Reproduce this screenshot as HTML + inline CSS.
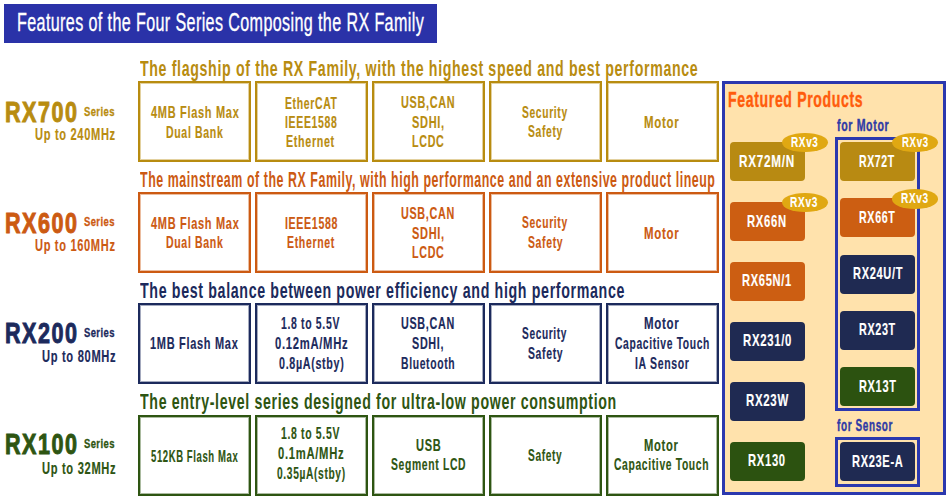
<!DOCTYPE html>
<html><head><meta charset="utf-8"><style>
html,body{margin:0;padding:0;background:#fff;width:950px;height:500px;overflow:hidden;position:relative}
.r{position:absolute}
.t{position:absolute;white-space:nowrap;line-height:1;transform-origin:0 0;font-family:"Liberation Sans",sans-serif}
</style></head><body>
<div class="r" style="left:4px;top:4px;width:433px;height:39px;background:#2a32a8"></div>
<div class="r" style="left:138px;top:81px;width:113px;height:81px;box-sizing:border-box;border:2px solid #b88c10;box-shadow:inset 0 0 0 1px #b88c1066"></div>
<div class="r" style="left:255px;top:81px;width:113px;height:81px;box-sizing:border-box;border:2px solid #b88c10;box-shadow:inset 0 0 0 1px #b88c1066"></div>
<div class="r" style="left:372px;top:81px;width:113px;height:81px;box-sizing:border-box;border:2px solid #b88c10;box-shadow:inset 0 0 0 1px #b88c1066"></div>
<div class="r" style="left:489px;top:81px;width:113px;height:81px;box-sizing:border-box;border:2px solid #b88c10;box-shadow:inset 0 0 0 1px #b88c1066"></div>
<div class="r" style="left:606px;top:81px;width:113px;height:81px;box-sizing:border-box;border:2px solid #b88c10;box-shadow:inset 0 0 0 1px #b88c1066"></div>
<div class="r" style="left:138px;top:192px;width:113px;height:81px;box-sizing:border-box;border:2px solid #cc5a12;box-shadow:inset 0 0 0 1px #cc5a1266"></div>
<div class="r" style="left:255px;top:192px;width:113px;height:81px;box-sizing:border-box;border:2px solid #cc5a12;box-shadow:inset 0 0 0 1px #cc5a1266"></div>
<div class="r" style="left:372px;top:192px;width:113px;height:81px;box-sizing:border-box;border:2px solid #cc5a12;box-shadow:inset 0 0 0 1px #cc5a1266"></div>
<div class="r" style="left:489px;top:192px;width:113px;height:81px;box-sizing:border-box;border:2px solid #cc5a12;box-shadow:inset 0 0 0 1px #cc5a1266"></div>
<div class="r" style="left:606px;top:192px;width:113px;height:81px;box-sizing:border-box;border:2px solid #cc5a12;box-shadow:inset 0 0 0 1px #cc5a1266"></div>
<div class="r" style="left:138px;top:303px;width:113px;height:81px;box-sizing:border-box;border:2px solid #1c2a5c;box-shadow:inset 0 0 0 1px #1c2a5c66"></div>
<div class="r" style="left:255px;top:303px;width:113px;height:81px;box-sizing:border-box;border:2px solid #1c2a5c;box-shadow:inset 0 0 0 1px #1c2a5c66"></div>
<div class="r" style="left:372px;top:303px;width:113px;height:81px;box-sizing:border-box;border:2px solid #1c2a5c;box-shadow:inset 0 0 0 1px #1c2a5c66"></div>
<div class="r" style="left:489px;top:303px;width:113px;height:81px;box-sizing:border-box;border:2px solid #1c2a5c;box-shadow:inset 0 0 0 1px #1c2a5c66"></div>
<div class="r" style="left:606px;top:303px;width:113px;height:81px;box-sizing:border-box;border:2px solid #1c2a5c;box-shadow:inset 0 0 0 1px #1c2a5c66"></div>
<div class="r" style="left:138px;top:415px;width:113px;height:81px;box-sizing:border-box;border:2px solid #2e5512;box-shadow:inset 0 0 0 1px #2e551266"></div>
<div class="r" style="left:255px;top:415px;width:113px;height:81px;box-sizing:border-box;border:2px solid #2e5512;box-shadow:inset 0 0 0 1px #2e551266"></div>
<div class="r" style="left:372px;top:415px;width:113px;height:81px;box-sizing:border-box;border:2px solid #2e5512;box-shadow:inset 0 0 0 1px #2e551266"></div>
<div class="r" style="left:489px;top:415px;width:113px;height:81px;box-sizing:border-box;border:2px solid #2e5512;box-shadow:inset 0 0 0 1px #2e551266"></div>
<div class="r" style="left:606px;top:415px;width:113px;height:81px;box-sizing:border-box;border:2px solid #2e5512;box-shadow:inset 0 0 0 1px #2e551266"></div>
<div class="r" style="left:722px;top:81px;width:224px;height:414px;box-sizing:border-box;border:3px solid #2b38ae;background:#ffe2ac"></div>
<div class="r" style="left:835px;top:137px;width:85px;height:274px;box-sizing:border-box;border:3px solid #2b38ae"></div>
<div class="r" style="left:835px;top:437px;width:85px;height:50px;box-sizing:border-box;border:3px solid #2b38ae"></div>
<div class="r" style="left:730px;top:142px;width:75px;height:39px;background:#b88a12;border-radius:4px"></div>
<div class="r" style="left:730px;top:202px;width:75px;height:39px;background:#cc5e12;border-radius:4px"></div>
<div class="r" style="left:730px;top:262px;width:75px;height:39px;background:#cc5e12;border-radius:4px"></div>
<div class="r" style="left:730px;top:322px;width:75px;height:39px;background:#1f2a52;border-radius:4px"></div>
<div class="r" style="left:730px;top:382px;width:75px;height:39px;background:#1f2a52;border-radius:4px"></div>
<div class="r" style="left:730px;top:442px;width:75px;height:39px;background:#2c5210;border-radius:4px"></div>
<div class="r" style="left:840px;top:142px;width:75px;height:39px;background:#b88a12;border-radius:4px"></div>
<div class="r" style="left:840px;top:198px;width:75px;height:39px;background:#cc5e12;border-radius:4px"></div>
<div class="r" style="left:840px;top:255px;width:75px;height:39px;background:#1f2a52;border-radius:4px"></div>
<div class="r" style="left:840px;top:311px;width:75px;height:39px;background:#1f2a52;border-radius:4px"></div>
<div class="r" style="left:840px;top:367px;width:75px;height:39px;background:#2c5210;border-radius:4px"></div>
<div class="r" style="left:840px;top:442px;width:75px;height:39px;background:#1f2a52;border-radius:4px"></div>
<div class="r" style="left:782px;top:132.5px;width:46px;height:19.5px;background:#e0a812;border-radius:50%"></div>
<div class="r" style="left:892px;top:132.5px;width:46px;height:19.5px;background:#e0a812;border-radius:50%"></div>
<div class="r" style="left:781.5px;top:192.5px;width:46px;height:19.5px;background:#e0a812;border-radius:50%"></div>
<div class="r" style="left:892px;top:189px;width:46px;height:19.5px;background:#e0a812;border-radius:50%"></div>
<div class="t" style="left:17.00px;top:9.75px;font-size:25.10px;font-weight:normal;color:#ffffff;transform:scaleX(0.6416);letter-spacing:0.6px;-webkit-text-stroke:0.35px currentColor;">Features of the Four Series Composing the RX Family</div>
<div class="t" style="left:140.00px;top:57.54px;font-size:21.80px;font-weight:bold;color:#b88c10;transform:scaleX(0.6504);letter-spacing:1px;">The flagship of the RX Family, with the highest speed and best performance</div>
<div class="t" style="left:140.00px;top:168.54px;font-size:21.80px;font-weight:bold;color:#cc5a12;transform:scaleX(0.5679);letter-spacing:1px;">The mainstream of the RX Family, with high performance and an extensive product lineup</div>
<div class="t" style="left:140.00px;top:279.54px;font-size:21.80px;font-weight:bold;color:#1c2a5c;transform:scaleX(0.6520);letter-spacing:1px;">The best balance between power efficiency and high performance</div>
<div class="t" style="left:140.00px;top:390.54px;font-size:21.80px;font-weight:bold;color:#2e5512;transform:scaleX(0.6508);letter-spacing:1px;">The entry-level series designed for ultra-low power consumption</div>
<div class="t" style="left:5.00px;top:97.53px;font-size:28.90px;font-weight:bold;color:#b88c10;transform:scaleX(0.7464);letter-spacing:2px;-webkit-text-stroke:1px currentColor;">RX700</div>
<div class="t" style="left:84.00px;top:105.75px;font-size:12.10px;font-weight:bold;color:#b88c10;transform:scaleX(0.7835);letter-spacing:0.5px;-webkit-text-stroke:0.3px currentColor;">Series</div>
<div class="t" style="left:35.00px;top:126.28px;font-size:16.20px;font-weight:bold;color:#b88c10;transform:scaleX(0.6842);letter-spacing:1px;-webkit-text-stroke:0.15px currentColor;">Up to 240MHz</div>
<div class="t" style="left:5.00px;top:208.53px;font-size:28.90px;font-weight:bold;color:#cc5a12;transform:scaleX(0.7464);letter-spacing:2px;-webkit-text-stroke:1px currentColor;">RX600</div>
<div class="t" style="left:84.00px;top:215.75px;font-size:12.10px;font-weight:bold;color:#cc5a12;transform:scaleX(0.7835);letter-spacing:0.5px;-webkit-text-stroke:0.3px currentColor;">Series</div>
<div class="t" style="left:35.00px;top:237.28px;font-size:16.20px;font-weight:bold;color:#cc5a12;transform:scaleX(0.6825);letter-spacing:1px;-webkit-text-stroke:0.15px currentColor;">Up to 160MHz</div>
<div class="t" style="left:5.00px;top:318.53px;font-size:28.90px;font-weight:bold;color:#1c2a5c;transform:scaleX(0.7464);letter-spacing:2px;-webkit-text-stroke:1px currentColor;">RX200</div>
<div class="t" style="left:84.00px;top:326.75px;font-size:12.10px;font-weight:bold;color:#1c2a5c;transform:scaleX(0.7835);letter-spacing:0.5px;-webkit-text-stroke:0.3px currentColor;">Series</div>
<div class="t" style="left:42.00px;top:348.28px;font-size:16.20px;font-weight:bold;color:#1c2a5c;transform:scaleX(0.6872);letter-spacing:1px;-webkit-text-stroke:0.15px currentColor;">Up to 80MHz</div>
<div class="t" style="left:5.00px;top:429.53px;font-size:28.90px;font-weight:bold;color:#2e5512;transform:scaleX(0.7464);letter-spacing:2px;-webkit-text-stroke:1px currentColor;">RX100</div>
<div class="t" style="left:84.00px;top:437.75px;font-size:12.10px;font-weight:bold;color:#2e5512;transform:scaleX(0.7835);letter-spacing:0.5px;-webkit-text-stroke:0.3px currentColor;">Series</div>
<div class="t" style="left:42.00px;top:460.28px;font-size:16.20px;font-weight:bold;color:#2e5512;transform:scaleX(0.6872);letter-spacing:1px;-webkit-text-stroke:0.15px currentColor;">Up to 32MHz</div>
<div class="t" style="left:151.00px;top:104.71px;font-size:15.70px;font-weight:bold;color:#b88c10;transform:scaleX(0.7002);letter-spacing:1px;-webkit-text-stroke:0.15px currentColor;">4MB Flash Max</div>
<div class="t" style="left:166.00px;top:124.71px;font-size:15.70px;font-weight:bold;color:#b88c10;transform:scaleX(0.6705);letter-spacing:1px;-webkit-text-stroke:0.15px currentColor;">Dual Bank</div>
<div class="t" style="left:285.00px;top:95.71px;font-size:15.70px;font-weight:bold;color:#b88c10;transform:scaleX(0.6651);letter-spacing:1px;-webkit-text-stroke:0.15px currentColor;">EtherCAT</div>
<div class="t" style="left:285.00px;top:114.71px;font-size:15.70px;font-weight:bold;color:#b88c10;transform:scaleX(0.6691);letter-spacing:1px;-webkit-text-stroke:0.15px currentColor;">IEEE1588</div>
<div class="t" style="left:286.00px;top:133.71px;font-size:15.70px;font-weight:bold;color:#b88c10;transform:scaleX(0.6820);letter-spacing:1px;-webkit-text-stroke:0.15px currentColor;">Ethernet</div>
<div class="t" style="left:401.00px;top:94.71px;font-size:15.70px;font-weight:bold;color:#b88c10;transform:scaleX(0.6931);letter-spacing:1px;-webkit-text-stroke:0.15px currentColor;">USB,CAN</div>
<div class="t" style="left:412.00px;top:114.71px;font-size:15.70px;font-weight:bold;color:#b88c10;transform:scaleX(0.7016);letter-spacing:1px;-webkit-text-stroke:0.15px currentColor;">SDHI,</div>
<div class="t" style="left:412.00px;top:133.71px;font-size:15.70px;font-weight:bold;color:#b88c10;transform:scaleX(0.6823);letter-spacing:1px;-webkit-text-stroke:0.15px currentColor;">LCDC</div>
<div class="t" style="left:522.00px;top:104.71px;font-size:15.70px;font-weight:bold;color:#b88c10;transform:scaleX(0.6545);letter-spacing:1px;-webkit-text-stroke:0.15px currentColor;">Security</div>
<div class="t" style="left:528.00px;top:123.71px;font-size:15.70px;font-weight:bold;color:#b88c10;transform:scaleX(0.6564);letter-spacing:1px;-webkit-text-stroke:0.15px currentColor;">Safety</div>
<div class="t" style="left:644.00px;top:114.71px;font-size:15.70px;font-weight:bold;color:#b88c10;transform:scaleX(0.7299);letter-spacing:1px;-webkit-text-stroke:0.15px currentColor;">Motor</div>
<div class="t" style="left:151.00px;top:215.71px;font-size:15.70px;font-weight:bold;color:#cc5a12;transform:scaleX(0.7002);letter-spacing:1px;-webkit-text-stroke:0.15px currentColor;">4MB Flash Max</div>
<div class="t" style="left:166.00px;top:234.71px;font-size:15.70px;font-weight:bold;color:#cc5a12;transform:scaleX(0.6705);letter-spacing:1px;-webkit-text-stroke:0.15px currentColor;">Dual Bank</div>
<div class="t" style="left:285.00px;top:215.71px;font-size:15.70px;font-weight:bold;color:#cc5a12;transform:scaleX(0.6760);letter-spacing:1px;-webkit-text-stroke:0.15px currentColor;">IEEE1588</div>
<div class="t" style="left:287.00px;top:234.71px;font-size:15.70px;font-weight:bold;color:#cc5a12;transform:scaleX(0.6693);letter-spacing:1px;-webkit-text-stroke:0.15px currentColor;">Ethernet</div>
<div class="t" style="left:401.00px;top:205.71px;font-size:15.70px;font-weight:bold;color:#cc5a12;transform:scaleX(0.6865);letter-spacing:1px;-webkit-text-stroke:0.15px currentColor;">USB,CAN</div>
<div class="t" style="left:412.00px;top:225.71px;font-size:15.70px;font-weight:bold;color:#cc5a12;transform:scaleX(0.7016);letter-spacing:1px;-webkit-text-stroke:0.15px currentColor;">SDHI,</div>
<div class="t" style="left:412.00px;top:244.71px;font-size:15.70px;font-weight:bold;color:#cc5a12;transform:scaleX(0.6823);letter-spacing:1px;-webkit-text-stroke:0.15px currentColor;">LCDC</div>
<div class="t" style="left:522.00px;top:214.71px;font-size:15.70px;font-weight:bold;color:#cc5a12;transform:scaleX(0.6545);letter-spacing:1px;-webkit-text-stroke:0.15px currentColor;">Security</div>
<div class="t" style="left:528.00px;top:234.71px;font-size:15.70px;font-weight:bold;color:#cc5a12;transform:scaleX(0.6637);letter-spacing:1px;-webkit-text-stroke:0.15px currentColor;">Safety</div>
<div class="t" style="left:644.00px;top:225.71px;font-size:15.70px;font-weight:bold;color:#cc5a12;transform:scaleX(0.7299);letter-spacing:1px;-webkit-text-stroke:0.15px currentColor;">Motor</div>
<div class="t" style="left:150.00px;top:335.71px;font-size:15.70px;font-weight:bold;color:#1c2a5c;transform:scaleX(0.7001);letter-spacing:1px;-webkit-text-stroke:0.15px currentColor;">1MB Flash Max</div>
<div class="t" style="left:281.00px;top:315.71px;font-size:15.70px;font-weight:bold;color:#1c2a5c;transform:scaleX(0.6663);letter-spacing:1px;-webkit-text-stroke:0.15px currentColor;">1.8 to 5.5V</div>
<div class="t" style="left:275.00px;top:335.71px;font-size:15.70px;font-weight:bold;color:#1c2a5c;transform:scaleX(0.7164);letter-spacing:1px;-webkit-text-stroke:0.15px currentColor;">0.12mA/MHz</div>
<div class="t" style="left:279.00px;top:355.71px;font-size:15.70px;font-weight:bold;color:#1c2a5c;transform:scaleX(0.6823);letter-spacing:1px;-webkit-text-stroke:0.15px currentColor;">0.8µA(stby)</div>
<div class="t" style="left:401.00px;top:315.71px;font-size:15.70px;font-weight:bold;color:#1c2a5c;transform:scaleX(0.6865);letter-spacing:1px;-webkit-text-stroke:0.15px currentColor;">USB,CAN</div>
<div class="t" style="left:412.00px;top:335.71px;font-size:15.70px;font-weight:bold;color:#1c2a5c;transform:scaleX(0.6873);letter-spacing:1px;-webkit-text-stroke:0.15px currentColor;">SDHI,</div>
<div class="t" style="left:401.00px;top:355.71px;font-size:15.70px;font-weight:bold;color:#1c2a5c;transform:scaleX(0.6606);letter-spacing:1px;-webkit-text-stroke:0.15px currentColor;">Bluetooth</div>
<div class="t" style="left:522.00px;top:325.71px;font-size:15.70px;font-weight:bold;color:#1c2a5c;transform:scaleX(0.6450);letter-spacing:1px;-webkit-text-stroke:0.15px currentColor;">Security</div>
<div class="t" style="left:528.00px;top:345.71px;font-size:15.70px;font-weight:bold;color:#1c2a5c;transform:scaleX(0.6637);letter-spacing:1px;-webkit-text-stroke:0.15px currentColor;">Safety</div>
<div class="t" style="left:644.00px;top:315.71px;font-size:15.70px;font-weight:bold;color:#1c2a5c;transform:scaleX(0.7318);letter-spacing:1px;-webkit-text-stroke:0.15px currentColor;">Motor</div>
<div class="t" style="left:615.00px;top:335.71px;font-size:15.70px;font-weight:bold;color:#1c2a5c;transform:scaleX(0.6569);letter-spacing:1px;-webkit-text-stroke:0.15px currentColor;">Capacitive Touch</div>
<div class="t" style="left:635.00px;top:355.71px;font-size:15.70px;font-weight:bold;color:#1c2a5c;transform:scaleX(0.6681);letter-spacing:1px;-webkit-text-stroke:0.15px currentColor;">IA Sensor</div>
<div class="t" style="left:151.00px;top:448.71px;font-size:15.70px;font-weight:bold;color:#2e5512;transform:scaleX(0.6060);letter-spacing:1px;-webkit-text-stroke:0.15px currentColor;">512KB Flash Max</div>
<div class="t" style="left:281.00px;top:425.71px;font-size:15.70px;font-weight:bold;color:#2e5512;transform:scaleX(0.6663);letter-spacing:1px;-webkit-text-stroke:0.15px currentColor;">1.8 to 5.5V</div>
<div class="t" style="left:278.00px;top:445.71px;font-size:15.70px;font-weight:bold;color:#2e5512;transform:scaleX(0.7159);letter-spacing:1px;-webkit-text-stroke:0.15px currentColor;">0.1mA/MHz</div>
<div class="t" style="left:277.00px;top:465.71px;font-size:15.70px;font-weight:bold;color:#2e5512;transform:scaleX(0.6509);letter-spacing:1px;-webkit-text-stroke:0.15px currentColor;">0.35µA(stby)</div>
<div class="t" style="left:416.00px;top:437.71px;font-size:15.70px;font-weight:bold;color:#2e5512;transform:scaleX(0.7033);letter-spacing:1px;-webkit-text-stroke:0.15px currentColor;">USB</div>
<div class="t" style="left:391.00px;top:456.71px;font-size:15.70px;font-weight:bold;color:#2e5512;transform:scaleX(0.6607);letter-spacing:1px;-webkit-text-stroke:0.15px currentColor;">Segment LCD</div>
<div class="t" style="left:528.00px;top:447.71px;font-size:15.70px;font-weight:bold;color:#2e5512;transform:scaleX(0.6462);letter-spacing:1px;-webkit-text-stroke:0.15px currentColor;">Safety</div>
<div class="t" style="left:644.00px;top:437.71px;font-size:15.70px;font-weight:bold;color:#2e5512;transform:scaleX(0.7135);letter-spacing:1px;-webkit-text-stroke:0.15px currentColor;">Motor</div>
<div class="t" style="left:614.00px;top:456.71px;font-size:15.70px;font-weight:bold;color:#2e5512;transform:scaleX(0.6576);letter-spacing:1px;-webkit-text-stroke:0.15px currentColor;">Capacitive Touch</div>
<div class="t" style="left:728.00px;top:88.71px;font-size:21.60px;font-weight:bold;color:#ff5c0c;transform:scaleX(0.6513);letter-spacing:1px;-webkit-text-stroke:0.4px currentColor;">Featured Products</div>
<div class="t" style="left:837.00px;top:118.45px;font-size:16.00px;font-weight:bold;color:#2e3aa6;transform:scaleX(0.6603);letter-spacing:1px;-webkit-text-stroke:0.4px currentColor;">for Motor</div>
<div class="t" style="left:837.00px;top:418.45px;font-size:16.00px;font-weight:bold;color:#2e3aa6;transform:scaleX(0.6223);letter-spacing:1px;-webkit-text-stroke:0.4px currentColor;">for Sensor</div>
<div class="t" style="left:739.00px;top:153.11px;font-size:16.40px;font-weight:bold;color:#ffffff;transform:scaleX(0.7152);letter-spacing:1px;-webkit-text-stroke:0.15px currentColor;">RX72M/N</div>
<div class="t" style="left:747.00px;top:213.11px;font-size:16.40px;font-weight:bold;color:#ffffff;transform:scaleX(0.6864);letter-spacing:1px;-webkit-text-stroke:0.15px currentColor;">RX66N</div>
<div class="t" style="left:742.00px;top:272.11px;font-size:16.40px;font-weight:bold;color:#ffffff;transform:scaleX(0.6773);letter-spacing:1px;-webkit-text-stroke:0.15px currentColor;">RX65N/1</div>
<div class="t" style="left:743.00px;top:332.11px;font-size:16.40px;font-weight:bold;color:#ffffff;transform:scaleX(0.6918);letter-spacing:1px;-webkit-text-stroke:0.15px currentColor;">RX231/0</div>
<div class="t" style="left:746.00px;top:392.11px;font-size:16.40px;font-weight:bold;color:#ffffff;transform:scaleX(0.6987);letter-spacing:1px;-webkit-text-stroke:0.15px currentColor;">RX23W</div>
<div class="t" style="left:748.00px;top:452.11px;font-size:16.40px;font-weight:bold;color:#ffffff;transform:scaleX(0.6848);letter-spacing:1px;-webkit-text-stroke:0.15px currentColor;">RX130</div>
<div class="t" style="left:859.00px;top:153.11px;font-size:16.40px;font-weight:bold;color:#ffffff;transform:scaleX(0.6397);letter-spacing:1px;-webkit-text-stroke:0.15px currentColor;">RX72T</div>
<div class="t" style="left:859.00px;top:209.11px;font-size:16.40px;font-weight:bold;color:#ffffff;transform:scaleX(0.6517);letter-spacing:1px;-webkit-text-stroke:0.15px currentColor;">RX66T</div>
<div class="t" style="left:853.00px;top:265.11px;font-size:16.40px;font-weight:bold;color:#ffffff;transform:scaleX(0.6726);letter-spacing:1px;-webkit-text-stroke:0.15px currentColor;">RX24U/T</div>
<div class="t" style="left:859.00px;top:321.11px;font-size:16.40px;font-weight:bold;color:#ffffff;transform:scaleX(0.6582);letter-spacing:1px;-webkit-text-stroke:0.15px currentColor;">RX23T</div>
<div class="t" style="left:859.00px;top:378.11px;font-size:16.40px;font-weight:bold;color:#ffffff;transform:scaleX(0.6703);letter-spacing:1px;-webkit-text-stroke:0.15px currentColor;">RX13T</div>
<div class="t" style="left:852.00px;top:453.11px;font-size:16.40px;font-weight:bold;color:#ffffff;transform:scaleX(0.6747);letter-spacing:1px;-webkit-text-stroke:0.15px currentColor;">RX23E-A</div>
<div class="t" style="left:791.00px;top:134.30px;font-size:15.00px;font-weight:bold;color:#ffffff;transform:scaleX(0.6624);letter-spacing:1px;-webkit-text-stroke:0.15px currentColor;">RXv3</div>
<div class="t" style="left:902.00px;top:134.30px;font-size:15.00px;font-weight:bold;color:#ffffff;transform:scaleX(0.6427);letter-spacing:1px;-webkit-text-stroke:0.15px currentColor;">RXv3</div>
<div class="t" style="left:790.00px;top:194.30px;font-size:15.00px;font-weight:bold;color:#ffffff;transform:scaleX(0.6755);letter-spacing:1px;-webkit-text-stroke:0.15px currentColor;">RXv3</div>
<div class="t" style="left:901.00px;top:190.30px;font-size:15.00px;font-weight:bold;color:#ffffff;transform:scaleX(0.6693);letter-spacing:1px;-webkit-text-stroke:0.15px currentColor;">RXv3</div>
</body></html>
